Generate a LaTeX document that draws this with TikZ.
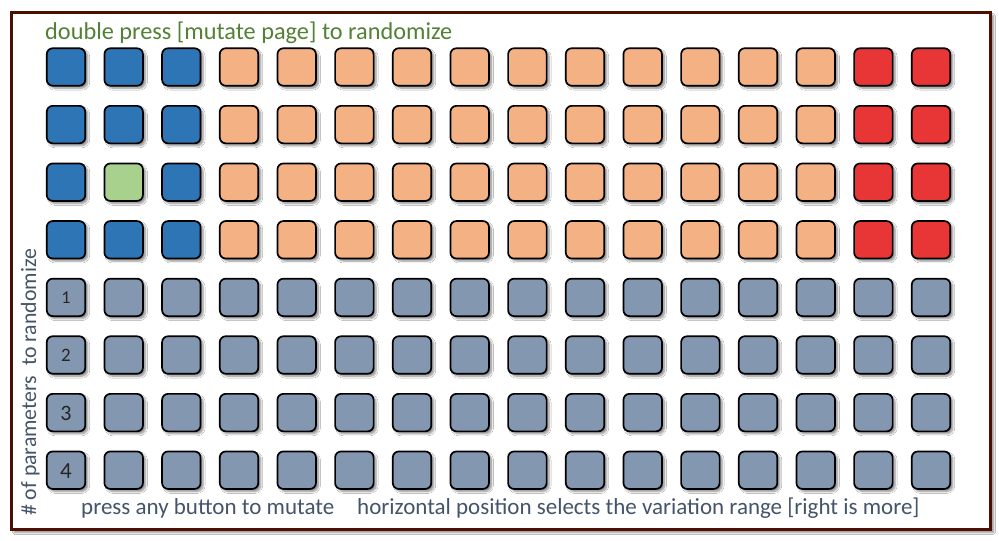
\documentclass[tikz,border=0pt]{standalone}
\usepackage{fontspec}
\setmainfont{Carlito}
\usetikzlibrary{shadows.blur}
\definecolor{frameC}{HTML}{4E0F02}
\definecolor{blueC}{HTML}{2E75B6}
\definecolor{orangeC}{HTML}{F4B183}
\definecolor{redC}{HTML}{E83535}
\definecolor{greenC}{HTML}{A9D18E}
\definecolor{grayC}{HTML}{8497B0}
\definecolor{titleC}{HTML}{538135}
\definecolor{labelC}{HTML}{44546A}
\tikzset{
  btn/.style={draw=black, line width=1.7pt, rounded corners=6pt, minimum width=38.5pt, minimum height=37.5pt, inner sep=0pt,
    blur shadow={shadow xshift=2.5pt, shadow yshift=-2.5pt, shadow blur steps=6, shadow opacity=45}},
  lbl/.style={text=labelC, font=\fontsize{23}{24}\selectfont, inner sep=0pt},
  num/.style={text=black!85, inner sep=0pt},
}
\begin{document}
\begin{tikzpicture}[x=1pt,y=-1pt]
\useasboundingbox (0,0) rectangle (999,541);
\fill[white] (0,0) rectangle (999,541);
\node[draw=frameC, line width=3pt, fill=white, minimum width=979pt, minimum height=517pt, inner sep=0pt, anchor=north west,
  blur shadow={shadow xshift=3pt, shadow yshift=-3pt, shadow blur steps=6, shadow opacity=45}] (frame) at (10,11) {};
\node[anchor=base west, text=titleC, font=\fontsize{24.3}{25}\selectfont, inner sep=0pt] (title) at (45,39) {double press [mutate page] to randomize};
\foreach \r in {1,...,8}{
  \foreach \c in {1,...,16}{
    \pgfmathsetmacro{\xx}{66+(\c-1)*57.67}
    \pgfmathsetmacro{\yy}{67+(\r-1)*57.6}
    \ifnum\r<5
      \ifnum\c<4
        \def\col{blueC}
        \ifnum\r=3 \ifnum\c=2 \def\col{greenC}\fi\fi
      \else
        \ifnum\c<15 \def\col{orangeC}\else \def\col{redC}\fi
      \fi
    \else
      \def\col{grayC}
    \fi
    \node[btn, fill=\col] (b\r-\c) at (\xx,\yy) {};
  }
}
\node[num, font=\fontsize{18}{18}\selectfont] (n1) at (b5-1) {1};
\node[num, font=\fontsize{19}{19}\selectfont] (n2) at (b6-1) {2};
\node[num, font=\fontsize{22}{22}\selectfont] (n3) at ([yshift=-1pt]b7-1.center) {3};
\node[num, font=\fontsize{23}{23}\selectfont] (n4) at ([yshift=-1pt]b8-1.center) {4};
\node[lbl, anchor=base west] (press) at (81,514) {press any button to mutate};
\node[lbl, anchor=base west] (horiz) at (357,514) {horizontal position selects the variation range [right is more]};
\node[lbl, anchor=base west, rotate=90, font=\fontsize{21.8}{22}\selectfont] (params) at (36,516) {\# of parameters\ \ to randomize};
\end{tikzpicture}
\end{document}
